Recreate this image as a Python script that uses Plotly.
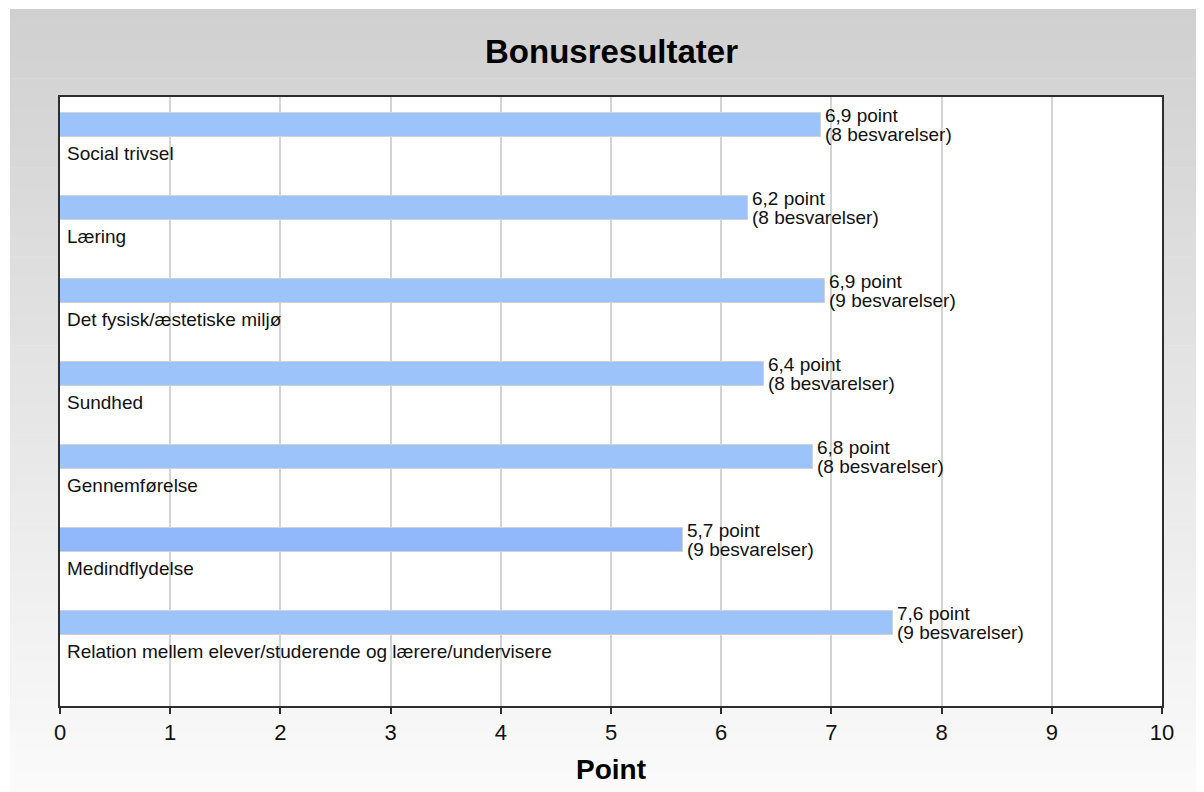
import plotly.graph_objects as go

# ---- data ----
categories = [
    "Social trivsel",
    "Læring",
    "Det fysisk/æstetiske miljø",
    "Sundhed",
    "Gennemførelse",
    "Medindflydelse",
    "Relation mellem elever/studerende og lærere/undervisere",
]
# bar lengths
points = [6.91, 6.24, 6.94, 6.39, 6.83, 5.65, 7.56]
# values as printed next to the bars
point_labels = ["6,9", "6,2", "6,9", "6,4", "6,8", "5,7", "7,6"]
responses = [8, 8, 9, 8, 8, 9, 9]
x_ticks = [0, 1, 2, 3, 4, 5, 6, 7, 8, 9, 10]
title_text = "Bonusresultater"
x_title = "Point"

# ---- layout geometry (figure pixels; page adds an 8px body margin) ----
W, H = 1204, 792
L, R, T, B = 52, 1154, 89, 698
pw, ph = R - L, B - T

def px_x(p):
    return (p - L) / pw

def px_y(p):
    return (B - p) / ph

FONT = "Liberation Sans, Arial, sans-serif"
bar_colors = ["#9dc3fb"] * len(categories)
bar_colors[5] = "#91b8fb"
LBL = 19

fig = go.Figure()
fig.add_trace(go.Bar(
    x=points,
    y=list(range(len(categories))),
    orientation="h",
    width=0.29,
    marker=dict(color=bar_colors, line=dict(color="#cfd3d8", width=1)),
    hoverinfo="skip",
    showlegend=False,
))

annotations = []
for i, (cat, v, lab, n) in enumerate(zip(categories, points, point_labels, responses)):
    annotations.append(dict(
        x=0, y=i, xref="x", yref="y", text=cat, showarrow=False,
        xanchor="left", yanchor="middle", xshift=5, yshift=-28,
        font=dict(family=FONT, size=LBL, color="#111111"),
    ))
    annotations.append(dict(
        x=v, y=i, xref="x", yref="y",
        text=f"{lab} point", showarrow=False,
        xanchor="left", yanchor="middle", xshift=2, yshift=10,
        font=dict(family=FONT, size=LBL, color="#111111"),
    ))
    annotations.append(dict(
        x=v, y=i, xref="x", yref="y",
        text=f"({n} besvarelser)", showarrow=False,
        xanchor="left", yanchor="middle", xshift=2, yshift=-9,
        font=dict(family=FONT, size=LBL, color="#111111"),
    ))

# title
annotations.append(dict(
    x=0.5, y=px_y(44), xref="paper", yref="paper", text=f"<b>{title_text}</b>",
    showarrow=False, xanchor="center", yanchor="middle",
    font=dict(family=FONT, size=33, color="#000000"),
))
# axis title
annotations.append(dict(
    x=0.5, y=px_y(761), xref="paper", yref="paper", text=f"<b>{x_title}</b>",
    showarrow=False, xanchor="center", yanchor="middle",
    font=dict(family=FONT, size=28, color="#000000"),
))

# background gradient bands
shapes = []
top_px, bot_px = 1, H
n_bands = 80
c_top, c_bot = 208, 251
for k in range(n_bands):
    y0 = top_px + (bot_px - top_px) * k / n_bands
    y1 = top_px + (bot_px - top_px) * (k + 1) / n_bands
    c = round(c_top + (c_bot - c_top) * (k + 0.5) / n_bands)
    shapes.append(dict(
        type="rect", xref="paper", yref="paper", layer="below",
        x0=px_x(2), x1=px_x(W + 2), y0=px_y(y1 + 0.6), y1=px_y(y0),
        fillcolor=f"rgb({c},{c},{c})", line=dict(width=0),
    ))
# white plot area
shapes.append(dict(
    type="rect", xref="paper", yref="paper", layer="below",
    x0=0, x1=1, y0=0, y1=1, fillcolor="white", line=dict(width=0),
))

fig.update_layout(
    width=W, height=H,
    margin=dict(l=L, r=W - R, t=T, b=H - B, pad=0),
    paper_bgcolor="white",
    plot_bgcolor="white",
    annotations=annotations,
    shapes=shapes,
    bargap=0,
    xaxis=dict(
        range=[0, 10], tickvals=x_ticks, ticktext=[str(t) for t in x_ticks],
        showgrid=True, gridcolor="#d4d4d4", gridwidth=1.5,
        showline=True, mirror=True, linecolor="#2e2e2e", linewidth=2,
        ticks="outside", ticklen=6, tickcolor="#2e2e2e", tickwidth=2,
        tickfont=dict(family=FONT, size=22, color="#111111"),
        zeroline=False, automargin=False, fixedrange=True,
    ),
    yaxis=dict(
        range=[6.996, -0.341], showticklabels=False, showgrid=False,
        showline=True, mirror=True, linecolor="#2e2e2e", linewidth=2,
        ticks="", zeroline=False, automargin=False, fixedrange=True,
    ),
)

fig.write_html("out.html", config={"displayModeBar": False})
